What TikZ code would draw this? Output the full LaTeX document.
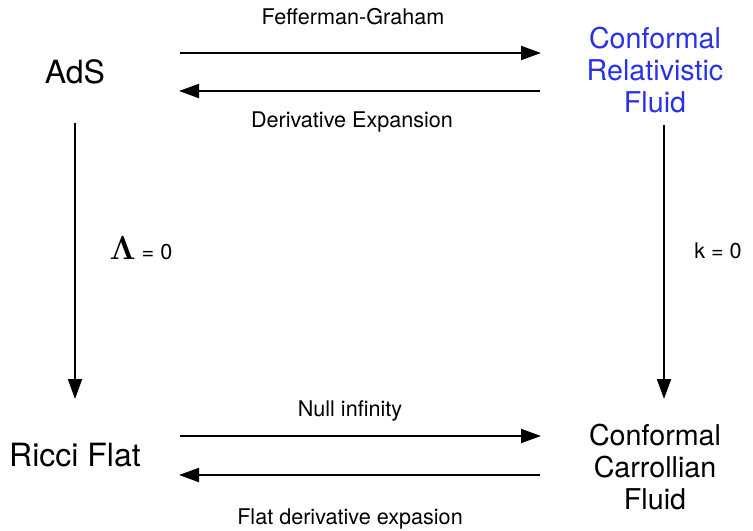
\documentclass[tikz,border=0pt]{standalone}
\usepackage{amsmath,amssymb}
\usepackage{bm}
\usepackage{fontspec}
\setmainfont{TeX Gyre Heros}
\usetikzlibrary{arrows.meta,positioning}

\definecolor{fluidblue}{RGB}{40,50,230}

\begin{document}
\begin{tikzpicture}[x=0.75pt,y=-0.75pt,
    corner/.style={align=center,font=\fontsize{21.5}{24}\selectfont,inner sep=0pt},
    bigcorner/.style={corner,font=\fontsize{24}{26}\selectfont},
    maplabel/.style={font=\fontsize{16.2}{19}\selectfont,inner sep=0pt},
    maparrow/.style={line width=1.5pt,-{Triangle[length=15pt,width=10.5pt]}}]
    \useasboundingbox (0, 0) rectangle (753, 531);

    % Corners
    \node[bigcorner] (ads) at (75, 72) {AdS};
    \node[corner,text=fluidblue] (crf) at (655, 70) {Conformal\\Relativistic\\Fluid};
    \node[bigcorner] (ricci) at (75, 455) {Ricci Flat};
    \node[corner] (ccf) at (655, 467) {Conformal\\Carrollian\\Fluid};

    % Arrow end points
    \coordinate (fgL) at (180, 53);   \coordinate (fgR) at (541, 53);
    \coordinate (deL) at (179, 91);   \coordinate (deR) at (540, 91);
    \coordinate (niL) at (180, 436);  \coordinate (niR) at (541, 436);
    \coordinate (fdL) at (179, 475);  \coordinate (fdR) at (540, 475);
    \coordinate (lamT) at (75, 123);  \coordinate (lamB) at (75, 399);
    \coordinate (kT) at (664, 125);   \coordinate (kB) at (664, 399);

    % Horizontal maps
    \draw[maparrow] (fgL) -- (fgR);
    \draw[maparrow] (deR) -- (deL);
    \draw[maparrow] (niL) -- (niR);
    \draw[maparrow] (fdR) -- (fdL);

    % Vertical limits
    \draw[maparrow] (lamT) -- (lamB);
    \draw[maparrow] (kT) -- (kB);

    % Labels
    \node[maplabel] (fg) at (353, 17) {Fefferman-Graham};
    \node[maplabel] (de) at (352, 122) {Derivative Expansion};
    \node[maplabel] (ni) at (350, 411) {Null infinity};
    \node[maplabel] (fd) at (350, 519) {Flat derivative expasion};
    \node[maplabel] (lam) at (141, 248) {{\fontsize{28}{28}\selectfont$\bm{\Lambda}$} = 0};
    \node[maplabel] (k) at (718, 251) {k = 0};
\end{tikzpicture}
\end{document}
